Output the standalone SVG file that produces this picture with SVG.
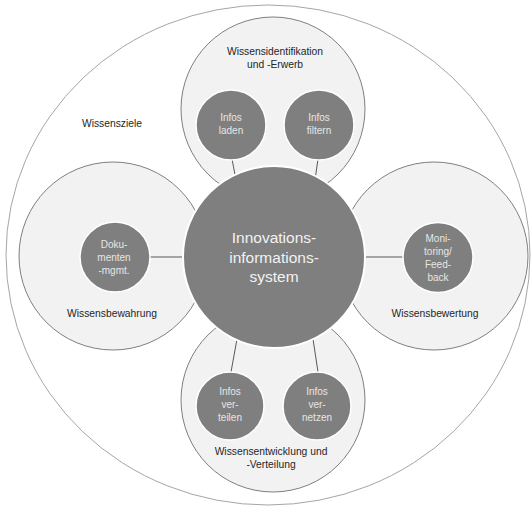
<svg xmlns="http://www.w3.org/2000/svg" width="531" height="509" viewBox="0 0 531 509">
<style>
.bg{fill:#ffffff;stroke:#a6a6a6;stroke-width:1}
.area{fill:#f2f2f2;stroke:#7f7f7f;stroke-width:1}
.sub{fill:#7f7f7f;stroke:#ffffff;stroke-width:1.5}
.core{fill:#7f7f7f;stroke:#ffffff;stroke-width:2}
.conn line{stroke:#595959;stroke-width:1}
text{font-family:"Liberation Sans",Arial,sans-serif;text-anchor:middle}
.t{font-size:10.3px;fill:#262626}
.s{font-size:10px;fill:#e6e6e6}
.c{font-size:15.5px;fill:#f2f2f2}
</style>
<g id="wissensziele">
<ellipse class="bg" cx="268" cy="255" rx="262" ry="250"/>
<text class="t" x="112" y="127">Wissensziele</text>
</g>
<g id="identifikation">
<circle class="area" cx="273" cy="109" r="92"/>
<text class="t" x="275" y="55">Wissensidentifikation</text>
<text class="t" x="275" y="68">und -Erwerb</text>
</g>
<g id="bewahrung">
<circle class="area" cx="113" cy="256" r="94"/>
<text class="t" x="112" y="317">Wissensbewahrung</text>
</g>
<g id="bewertung">
<circle class="area" cx="434" cy="256" r="94"/>
<text class="t" x="435" y="317">Wissensbewertung</text>
</g>
<g id="entwicklung">
<circle class="area" cx="273" cy="400" r="92"/>
<text class="t" x="271" y="455">Wissensentwicklung und</text>
<text class="t" x="271" y="468">-Verteilung</text>
</g>
<g id="connectors" class="conn">
<line x1="232" y1="159" x2="236" y2="180"/>
<line x1="318" y1="159" x2="315" y2="180"/>
<line x1="150" y1="257" x2="183" y2="257"/>
<line x1="366" y1="257" x2="403" y2="257"/>
<line x1="237" y1="339" x2="231" y2="372"/>
<line x1="313" y1="339" x2="318" y2="372"/>
</g>
<g id="infos-laden">
<circle class="sub" cx="231" cy="125" r="35"/>
<text class="s" x="231" y="121">Infos</text>
<text class="s" x="231" y="134">laden</text>
</g>
<g id="infos-filtern">
<circle class="sub" cx="319" cy="125" r="35"/>
<text class="s" x="319" y="121">Infos</text>
<text class="s" x="319" y="134">filtern</text>
</g>
<g id="dokumenten">
<circle class="sub" cx="115" cy="257" r="35"/>
<text class="s" x="114" y="248">Doku-</text>
<text class="s" x="114" y="261">menten</text>
<text class="s" x="114" y="274">-mgmt.</text>
</g>
<g id="monitoring">
<circle class="sub" cx="438" cy="257.5" r="35"/>
<text class="s" x="438" y="242">Moni-</text>
<text class="s" x="438" y="255">toring/</text>
<text class="s" x="438" y="268">Feed-</text>
<text class="s" x="438" y="281">back</text>
</g>
<g id="infos-verteilen">
<circle class="sub" cx="230" cy="406" r="34"/>
<text class="s" x="230" y="395">Infos</text>
<text class="s" x="230" y="408">ver-</text>
<text class="s" x="230" y="421">teilen</text>
</g>
<g id="infos-vernetzen">
<circle class="sub" cx="317" cy="406" r="34"/>
<text class="s" x="317" y="395">Infos</text>
<text class="s" x="317" y="408">ver-</text>
<text class="s" x="317" y="421">netzen</text>
</g>
<g id="innovationssystem">
<circle class="core" cx="274" cy="257" r="91"/>
<text class="c" x="274" y="243">Innovations-</text>
<text class="c" x="274" y="263">informations-</text>
<text class="c" x="274" y="282">system</text>
</g>
</svg>
